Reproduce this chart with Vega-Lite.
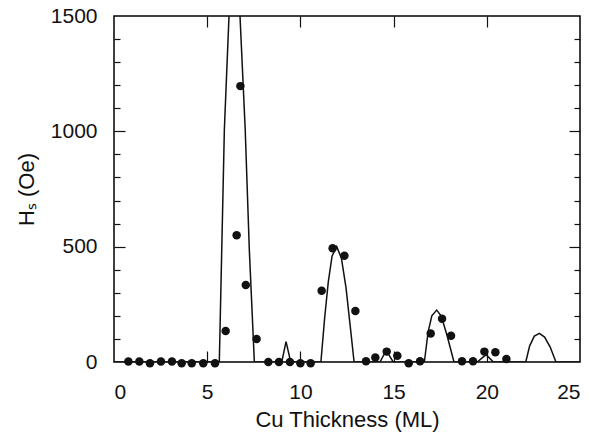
{
  "$schema": "https://vega.github.io/schema/vega-lite/v6.json",
  "width": 466,
  "height": 346,
  "autosize": {"type": "none"},
  "padding": {"left": 114, "top": 16, "right": 10, "bottom": 74},
  "background": "white",
  "config": {
    "view": {"stroke": "black", "strokeWidth": 1.5},
    "font": "Liberation Sans",
    "axis": {"labelFont": "Liberation Sans", "titleFont": "Liberation Sans", "labelColor": "#111", "titleColor": "#111", "tickColor": "#111", "titleFontWeight": "normal", "grid": false, "domain": false, "tickWidth": 1.2}
  },
  "datasets": {
    "measured": [
      {"cu": 0.77, "hs": 2}, {"cu": 1.36, "hs": 2}, {"cu": 1.93, "hs": -5}, {"cu": 2.52, "hs": 2},
      {"cu": 3.11, "hs": 2}, {"cu": 3.63, "hs": -5}, {"cu": 4.17, "hs": -5}, {"cu": 4.79, "hs": -5},
      {"cu": 5.42, "hs": -5}, {"cu": 5.99, "hs": 134}, {"cu": 6.58, "hs": 549}, {"cu": 6.78, "hs": 1196},
      {"cu": 7.07, "hs": 334}, {"cu": 7.65, "hs": 100}, {"cu": 8.28, "hs": 0}, {"cu": 8.85, "hs": 0},
      {"cu": 9.44, "hs": 0}, {"cu": 10.0, "hs": -5}, {"cu": 10.55, "hs": -5}, {"cu": 11.14, "hs": 309},
      {"cu": 11.73, "hs": 493}, {"cu": 12.36, "hs": 461}, {"cu": 12.95, "hs": 221}, {"cu": 13.52, "hs": 3},
      {"cu": 14.02, "hs": 20}, {"cu": 14.63, "hs": 45}, {"cu": 15.2, "hs": 27}, {"cu": 15.81, "hs": -5},
      {"cu": 16.42, "hs": 3}, {"cu": 16.99, "hs": 124}, {"cu": 17.6, "hs": 188}, {"cu": 18.08, "hs": 114},
      {"cu": 18.67, "hs": 3}, {"cu": 19.26, "hs": 3}, {"cu": 19.87, "hs": 45}, {"cu": 20.46, "hs": 42},
      {"cu": 21.05, "hs": 13}
    ],
    "model": [
      {"cu": 0, "hs": 0}, {"cu": 5.65, "hs": 0}, {"cu": 5.78, "hs": 486}, {"cu": 5.92, "hs": 1006},
      {"cu": 6.17, "hs": 1500}, {"cu": 6.32, "hs": 1800}, {"cu": 6.47, "hs": 1900}, {"cu": 6.62, "hs": 1800},
      {"cu": 6.76, "hs": 1500}, {"cu": 7.04, "hs": 1006}, {"cu": 7.26, "hs": 486}, {"cu": 7.53, "hs": 0},
      {"cu": 9.0, "hs": 0}, {"cu": 9.23, "hs": 88}, {"cu": 9.48, "hs": 0},
      {"cu": 11.1, "hs": 0}, {"cu": 11.3, "hs": 190}, {"cu": 11.5, "hs": 350}, {"cu": 11.7, "hs": 460},
      {"cu": 11.95, "hs": 500}, {"cu": 12.2, "hs": 450}, {"cu": 12.45, "hs": 320}, {"cu": 12.68, "hs": 150},
      {"cu": 12.88, "hs": 0},
      {"cu": 14.27, "hs": 0}, {"cu": 14.6, "hs": 50}, {"cu": 14.98, "hs": 0},
      {"cu": 16.65, "hs": 0}, {"cu": 16.85, "hs": 130}, {"cu": 17.05, "hs": 200}, {"cu": 17.31, "hs": 225},
      {"cu": 17.55, "hs": 200}, {"cu": 17.85, "hs": 120}, {"cu": 18.24, "hs": 0},
      {"cu": 19.49, "hs": 0}, {"cu": 19.96, "hs": 32}, {"cu": 20.35, "hs": 0},
      {"cu": 22.09, "hs": 0}, {"cu": 22.3, "hs": 70}, {"cu": 22.55, "hs": 112}, {"cu": 22.82, "hs": 124},
      {"cu": 23.1, "hs": 108}, {"cu": 23.4, "hs": 65}, {"cu": 23.71, "hs": 0}, {"cu": 25, "hs": 0}
    ]
  },
  "resolve": {"axis": {"x": "independent", "y": "independent"}},
  "layer": [
    {
      "data": {"name": "model"},
      "mark": {"type": "line", "color": "#111", "strokeWidth": 1.5, "clip": true, "interpolate": "linear"},
      "encoding": {
        "x": {"field": "cu", "type": "quantitative", "scale": {"domain": [0, 25], "nice": false},
              "axis": {"orient": "bottom", "values": [0, 5, 10, 15, 20, 25], "format": "d", "ticks": false, "labelFontSize": 21, "labelPadding": 19, "title": "Cu Thickness (ML)", "titleFontSize": 22, "titlePadding": 7}},
        "y": {"field": "hs", "type": "quantitative", "scale": {"domain": [0, 1500], "nice": false},
              "axis": {"orient": "left", "values": [0, 500, 1000, 1500], "format": "d", "ticks": false, "labelFontSize": 21, "labelPadding": 17, "title": "Hₛ (Oe)", "titleFontSize": 22, "titlePadding": 12}}
      }
    },
    {
      "data": {"name": "measured"},
      "mark": {"type": "point", "filled": true, "color": "#111", "opacity": 1, "size": 72},
      "encoding": {
        "x": {"field": "cu", "type": "quantitative",
              "axis": {"orient": "bottom", "values": [5, 10, 15, 20], "labels": false, "tickSize": -11, "title": null}},
        "y": {"field": "hs", "type": "quantitative",
              "axis": {"orient": "left", "values": [100, 200, 300, 400, 500, 600, 700, 800, 900, 1000, 1100, 1200, 1300, 1400], "labels": false, "title": null,
                       "tickSize": {"condition": {"test": "datum.value % 500 === 0", "value": -11}, "value": -6}}}
      }
    },
    {
      "data": {"name": "measured"},
      "mark": {"type": "point", "opacity": 0},
      "encoding": {
        "x": {"field": "cu", "type": "quantitative",
              "axis": {"orient": "top", "values": [5, 10, 15, 20], "labels": false, "tickSize": -11, "title": null}},
        "y": {"field": "hs", "type": "quantitative",
              "axis": {"orient": "right", "values": [100, 200, 300, 400, 500, 600, 700, 800, 900, 1000, 1100, 1200, 1300, 1400], "labels": false, "title": null,
                       "tickSize": {"condition": {"test": "datum.value % 500 === 0", "value": -11}, "value": -6}}}
      }
    }
  ]
}
